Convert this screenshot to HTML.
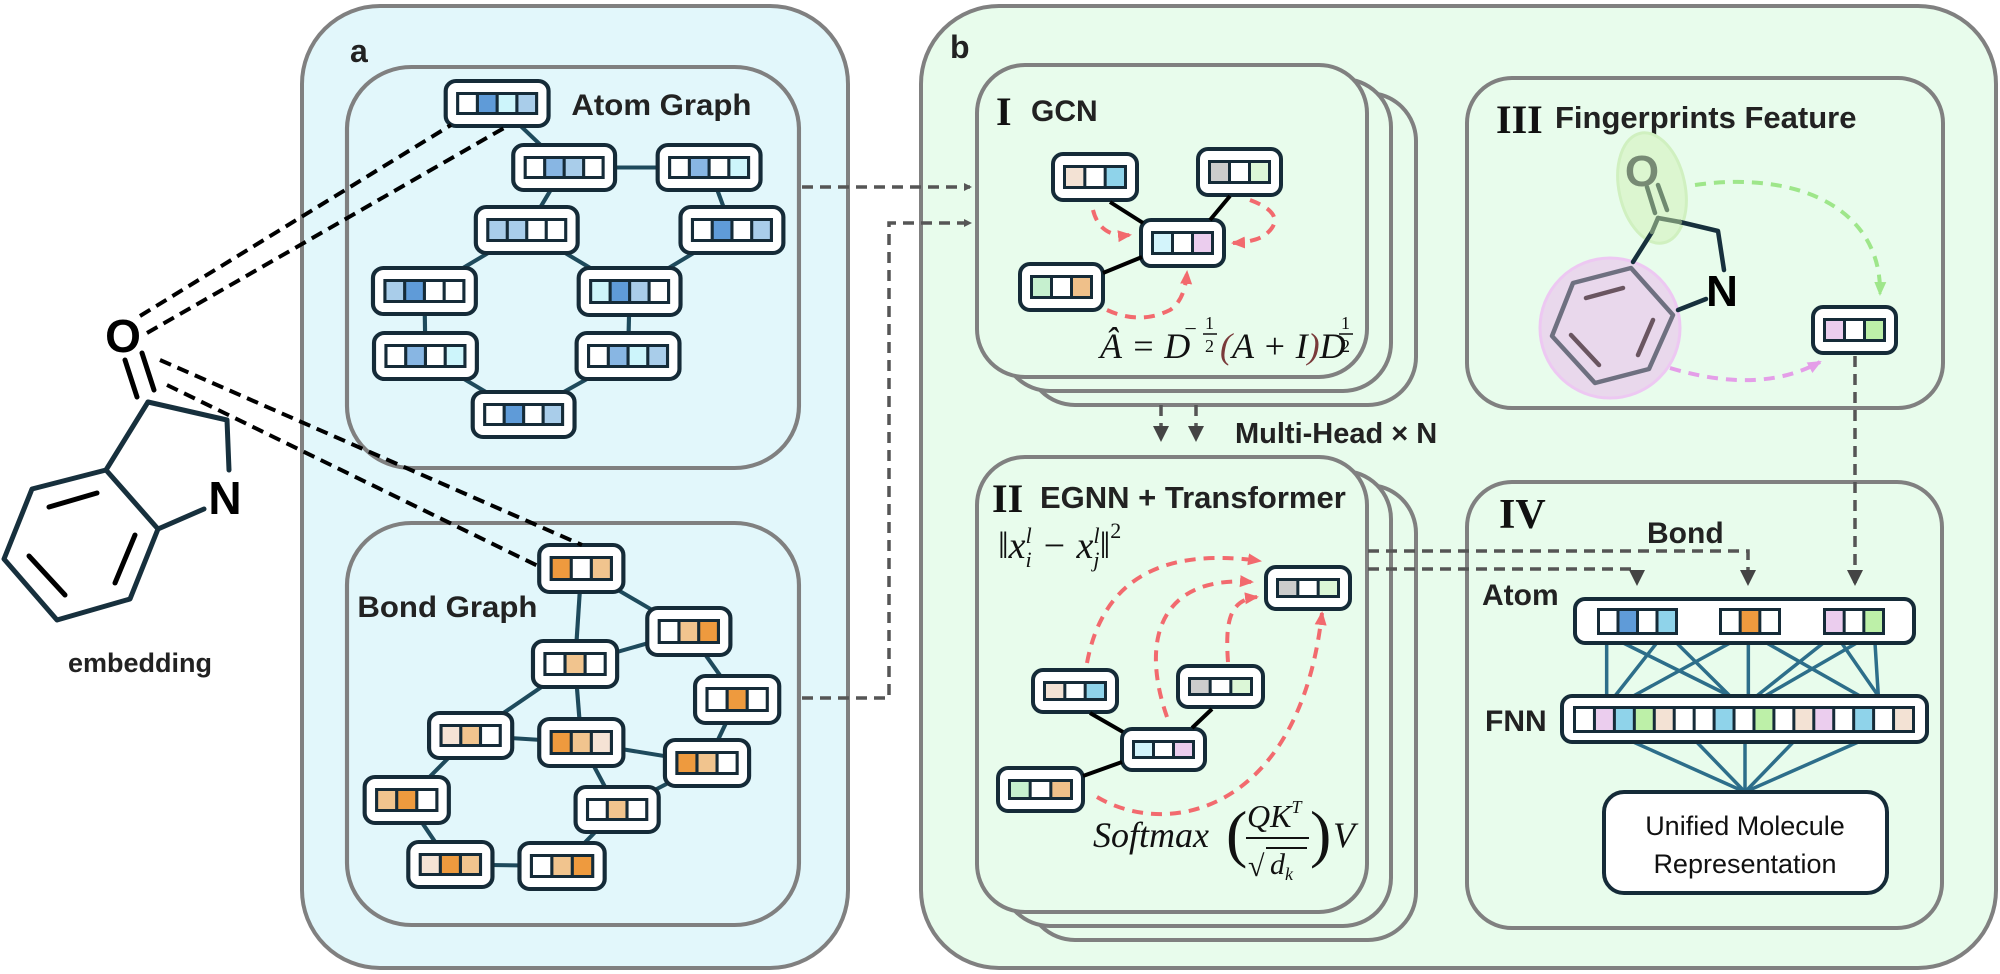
<!DOCTYPE html>
<html><head><meta charset="utf-8">
<style>
html,body{margin:0;padding:0;background:#fff;}
svg{display:block;}
.t{font-family:"Liberation Sans",sans-serif;font-weight:bold;fill:#222;}
.m{font-family:"Liberation Serif",serif;font-style:italic;fill:#111;}
.r{font-family:"Liberation Serif",serif;font-weight:bold;fill:#111;}
</style></head><body>
<svg id="s" width="2000" height="974" viewBox="0 0 2000 974" xmlns="http://www.w3.org/2000/svg">
<defs>
<marker id="ag" markerWidth="8" markerHeight="8" refX="6" refY="4" orient="auto" markerUnits="userSpaceOnUse" viewBox="0 0 8 8"><path d="M0,0 L8,4 L0,8 z" fill="#555"/></marker>
<marker id="agb" markerWidth="16" markerHeight="16" refX="14" refY="8" orient="auto" markerUnits="userSpaceOnUse"><path d="M0,0 L16,8 L0,16 z" fill="#444"/></marker>
<marker id="ar" markerWidth="14" markerHeight="14" refX="12" refY="7" orient="auto" markerUnits="userSpaceOnUse"><path d="M0,1 L14,7 L0,13 z" fill="#f26a6e"/></marker>
<marker id="agr" markerWidth="14" markerHeight="14" refX="12" refY="7" orient="auto" markerUnits="userSpaceOnUse"><path d="M0,1 L14,7 L0,13 z" fill="#9ee68a"/></marker>
<marker id="apk" markerWidth="14" markerHeight="14" refX="12" refY="7" orient="auto" markerUnits="userSpaceOnUse"><path d="M0,1 L14,7 L0,13 z" fill="#e49ee8"/></marker>
</defs>

<rect x="302" y="6" width="546" height="962" rx="78" fill="#e2f7fb" stroke="#808080" stroke-width="4"/>
<text class="t" x="350" y="62" font-size="32">a</text>
<g transform="translate(347,0) scale(1.039,1) translate(-347,0)">
<rect x="347" y="67" width="435" height="401" rx="62" fill="#e2f7fb" stroke="#808080" stroke-width="4"/>
<text class="t" x="563" y="115" font-size="30">Atom Graph</text>
<g id="edgesA" stroke="#1e4a5c" stroke-width="4"></g>
<g id="nodesA"></g>
<rect x="347" y="523" width="435" height="402" rx="62" fill="#e2f7fb" stroke="#808080" stroke-width="4"/>
<text class="t" x="357" y="617" font-size="30">Bond Graph</text>
<g id="edgesB" stroke="#1e4a5c" stroke-width="4"></g>
<g id="nodesB"></g>
</g>

<rect x="921" y="6" width="1075" height="962" rx="78" fill="#e8fcec" stroke="#808080" stroke-width="4"/>
<text class="t" x="950" y="58" font-size="32">b</text>
<rect x="1027" y="93" width="389" height="312" rx="48" fill="#e8fcec" stroke="#808080" stroke-width="4"/>
<rect x="1002" y="79" width="389" height="312" rx="48" fill="#e8fcec" stroke="#808080" stroke-width="4"/>
<rect x="977" y="65" width="390" height="312" rx="48" fill="#e8fcec" stroke="#808080" stroke-width="4"/>
<text class="r" x="996" y="125" font-size="40">I</text>
<text class="t" x="1031" y="121" font-size="30">GCN</text>
<rect x="1027" y="485" width="389" height="455" rx="48" fill="#e8fcec" stroke="#808080" stroke-width="4"/>
<rect x="1002" y="471" width="389" height="455" rx="48" fill="#e8fcec" stroke="#808080" stroke-width="4"/>
<rect x="977" y="457" width="390" height="455" rx="48" fill="#e8fcec" stroke="#808080" stroke-width="4"/>
<text class="r" x="992" y="512" font-size="40">II</text>
<text class="t" x="1040" y="508" font-size="31">EGNN + Transformer</text>
<rect x="1467" y="78" width="476" height="330" rx="45" fill="#e8fcec" stroke="#808080" stroke-width="4"/>
<text class="r" x="1496" y="133" font-size="40">III</text>
<text class="t" x="1555" y="128" font-size="31">Fingerprints Feature</text>
<rect x="1467" y="482" width="475" height="446" rx="45" fill="#e8fcec" stroke="#808080" stroke-width="4"/>
<text class="r" x="1499" y="528" font-size="42">IV</text>
<text class="t" x="1647" y="543" font-size="30">Bond</text>
<text class="t" x="1482" y="605" font-size="30">Atom</text>
<text class="t" x="1485" y="731" font-size="30">FNN</text>
<text class="t" x="1235" y="443" font-size="29">Multi-Head × N</text>

<g stroke="#17303d" stroke-width="5" fill="none" stroke-linecap="round" stroke-linejoin="round">
<path d="M148,402 L227,420 L229,470"/>
<path d="M204,509 L158,529"/>
<path d="M148,402 L106,470"/>
<path d="M106,470 L32,489 L4,559 L57,620 L130,599 L158,529 Z"/>
<path d="M49,507 L97,493 M29,556 L65,595 M115,583 L135,535" stroke="#000"/>
<path d="M125,360 L137,397 M142,353 L154,390" stroke="#000"/>
</g>
<text class="t" x="123" y="352" font-size="46" text-anchor="middle" style="fill:#000">O</text>
<text class="t" x="225" y="514" font-size="46" text-anchor="middle" style="fill:#000">N</text>
<text class="t" x="140" y="672" font-size="27" text-anchor="middle">embedding</text>
<g stroke="#000" stroke-width="4" stroke-dasharray="12,7" fill="none">
<path d="M140,316 L451,125"/><path d="M147,333 L504,128"/>
<path d="M160,360 L582,545"/><path d="M167,385 L540,567"/>
</g>

<g stroke="#555" stroke-width="3.5" stroke-dasharray="11,7" fill="none">
<path d="M802,187 L970,187" marker-end="url(#ag)"/>
<path d="M802,698 L889,698 L889,223 L970,223" marker-end="url(#ag)"/>
<path d="M1161,405 L1161,440" marker-end="url(#agb)"/>
<path d="M1196,405 L1196,440" marker-end="url(#agb)"/>
<path d="M1368,551 L1748,551 L1748,584" marker-end="url(#agb)"/>
<path d="M1368,569 L1637,569 L1637,584" marker-end="url(#agb)"/>
<path d="M1855,356 L1855,584" marker-end="url(#agb)"/>
</g>

<g id="nodes"></g>

<g stroke="#000" stroke-width="4">
<path d="M1110,202 L1143,223 M1230,196 L1210,220 M1103,273 L1142,257"/>
<path d="M1090,713 L1123,732 M1212,709 L1192,728 M1083,776 L1122,762"/>
</g>
<g stroke="#f26a6e" stroke-width="4" stroke-dasharray="11,8" fill="none">
<path d="M1093,210 Q1100,238 1130,235" marker-end="url(#ar)"/>
<path d="M1250,200 Q1290,215 1265,235 Q1255,242 1233,243" marker-end="url(#ar)"/>
<path d="M1107,310 Q1140,325 1170,310 Q1185,300 1187,272" marker-end="url(#ar)"/>
<path d="M1087,663 Q1110,540 1260,561" marker-end="url(#ar)"/>
<path d="M1167,717 C1140,640 1160,575 1252,582" marker-end="url(#ar)"/>
<path d="M1228,662 C1225,620 1230,600 1257,597" marker-end="url(#ar)"/>
<path d="M1097,797 C1170,840 1300,810 1322,613" marker-end="url(#ar)"/>
</g>
<text class="m" x="1100" y="358" font-size="36">Â = D</text>
<text class="m" x="1183" y="336" font-size="22">−</text>
<text class="m" x="1205" y="329" font-size="18" style="font-style:normal">1</text>
<line x1="1203" y1="334" x2="1217" y2="334" stroke="#111" stroke-width="1.5"/>
<text class="m" x="1205" y="352" font-size="18" style="font-style:normal">2</text>
<text class="m" x="1220" y="358" font-size="36"><tspan style="fill:#7a3a3a">(</tspan>A + I<tspan style="fill:#7a3a3a">)</tspan>D</text>
<text class="m" x="1341" y="329" font-size="18" style="font-style:normal">1</text>
<line x1="1339" y1="334" x2="1353" y2="334" stroke="#111" stroke-width="1.5"/>
<text class="m" x="1341" y="352" font-size="18" style="font-style:normal">2</text>

<text class="m" x="998" y="558" font-size="38">‖x<tspan font-size="22" dy="9">i</tspan><tspan font-size="22" dx="-6" dy="-24">l</tspan><tspan dy="15"> − x</tspan><tspan font-size="22" dy="9">j</tspan><tspan font-size="22" dx="-6" dy="-24">l</tspan><tspan dy="15">‖</tspan><tspan font-size="22" dy="-20" style="font-style:normal">2</tspan></text>

<text class="m" x="1093" y="847" font-size="36">Softmax</text>
<text class="m" x="1226" y="855" font-size="64" style="font-style:normal">(</text>
<text class="m" x="1247" y="827" font-size="32">QK<tspan font-size="18" dy="-14">T</tspan></text>
<line x1="1246" y1="838" x2="1309" y2="838" stroke="#111" stroke-width="2"/>
<text class="m" x="1248" y="876" font-size="30" style="font-style:normal">√</text>
<line x1="1266" y1="848" x2="1307" y2="848" stroke="#111" stroke-width="2"/>
<text class="m" x="1270" y="874" font-size="30">d<tspan font-size="18" dy="6">k</tspan></text>
<text class="m" x="1310" y="855" font-size="64" style="font-style:normal">)</text>
<text class="m" x="1333" y="847" font-size="36">V</text>

<circle cx="1610" cy="328" r="70" fill="#e9d8ec" stroke="#edc8f2" stroke-width="3"/>
<ellipse cx="1652" cy="188" rx="33" ry="56" transform="rotate(-12 1652 188)" fill="#dcf6d0" stroke="#d0f0c0" stroke-width="3"/>
<g fill="none" stroke-width="4.5" stroke-linecap="round" stroke-linejoin="round">
<path d="M1680,222 L1718,231 L1724,270" stroke="#17303d"/>
<path d="M1678,310 L1706,299" stroke="#17303d"/>
<path d="M1652,232 L1633,262" stroke="#17303d"/>
<path d="M1658,218 L1680,222" stroke="#6f8a70"/>
<path d="M1658,218 L1652,232" stroke="#6f8a70"/>
<path d="M1647,187 L1655,213 M1658,185 L1667,210" stroke="#6f8a70"/>
<path d="M1631,268 L1573,283 L1552,336 L1595,383 L1649,369 L1673,315 Z" stroke="#6e7080"/>
<path d="M1586,298 L1623,288 M1571,335 L1599,365 M1638,355 L1653,320" stroke="#6a5560"/>
</g>
<text class="t" x="1642" y="186" font-size="44" text-anchor="middle" style="fill:#778a74">O</text>
<text class="t" x="1722" y="306" font-size="44" text-anchor="middle" style="fill:#000">N</text>
<path d="M1695,185 C1800,170 1882,210 1880,294" stroke="#9ee68a" stroke-width="4" stroke-dasharray="11,8" fill="none" marker-end="url(#agr)"/>
<path d="M1670,368 Q1760,395 1820,362" stroke="#e49ee8" stroke-width="4" stroke-dasharray="11,8" fill="none" marker-end="url(#apk)"/>

<g id="fnnl" stroke="#2d6e8a" stroke-width="3.5"></g>
<rect x="1604" y="792" width="283" height="101" rx="20" fill="#fff" stroke="#152b38" stroke-width="4"/>
<text x="1745" y="835" font-size="27" text-anchor="middle" font-family="Liberation Sans, sans-serif" fill="#111">Unified Molecule</text>
<text x="1745" y="873" font-size="27" text-anchor="middle" font-family="Liberation Sans, sans-serif" fill="#111">Representation</text>
<g id="nodes2"></g>
</svg>
<script>
var NS="http://www.w3.org/2000/svg";
function el(p,t,a){var e=document.createElementNS(NS,t);for(var k in a)e.setAttribute(k,a[k]);p.appendChild(e);return e;}
var W='#ffffff',B1='#5f9bd8',B2='#88b6e3',B3='#a9cdea',B4='#cdf5fb',O1='#ee9a3e',O2='#f1c48e',O3='#f5e3d5';
function node(g,x1,y1,x2,y2,cols,bar){
  if(!bar) el(g,'rect',{x:x1,y:y1,width:x2-x1,height:y2-y1,rx:10,fill:'#fff',stroke:'#152b38','stroke-width':4});
  var ix=x1+10,iy=y1+11,iw=x2-x1-20,ih=y2-y1-22;
  if(bar){ix=bar[0];iy=bar[1];iw=bar[2];ih=bar[3];}
  el(g,'rect',{x:ix,y:iy,width:iw,height:ih,fill:'#152b38'});
  var n=cols.length,cw=(iw-3)/n;
  for(var i=0;i<n;i++) el(g,'rect',{x:ix+3+i*cw,y:iy+3,width:cw-3,height:ih-6,fill:cols[i]});
}
var A=[[442,81,541,126,[W,B1,B4,B3]],[507,145,605,190,[W,B2,B3,W]],[646,145,745,190,[W,B2,W,B4]],
[471,207,569,253,[B3,B3,W,W]],[668,207,767,253,[W,B1,W,B3]],[372,268,471,314,[B3,B1,W,W]],
[570,268,668,315,[B4,B1,B3,W]],[373,333,472,379,[W,B2,W,B4]],[568,333,667,379,[W,B2,B4,B3]],[468,392,566,437,[W,B1,W,B3]]];
var AE=[[0,1],[1,2],[1,3],[2,4],[3,5],[3,6],[4,6],[5,7],[6,8],[7,9],[8,9]];
var B=[[532,545,613,592,[O1,W,O2]],[636,608,716,655,[W,O2,O1]],[526,641,607,687,[W,O2,W]],[682,676,763,723,[W,O1,W]],
[426,713,506,758,[O3,O2,W]],[532,719,613,766,[O1,O2,O3]],[653,740,734,786,[O1,O2,W]],[364,777,445,823,[O2,O1,W]],
[567,787,647,832,[W,O2,W]],[406,842,487,887,[O3,O1,O2]],[513,843,595,889,[W,O2,O1]]];
var BE=[[0,1],[0,2],[2,1],[1,3],[2,4],[2,5],[3,6],[4,5],[5,6],[5,8],[6,8],[4,7],[7,9],[9,10],[10,8]];
function c(n){return [(n[0]+n[2])/2,(n[1]+n[3])/2];}
var eA=document.getElementById('edgesA'),eB=document.getElementById('edgesB'),nA=document.getElementById('nodesA'),nB=document.getElementById('nodesB');
AE.forEach(function(e){var a=c(A[e[0]]),b=c(A[e[1]]);el(eA,'line',{x1:a[0],y1:a[1],x2:b[0],y2:b[1]});});
BE.forEach(function(e){var a=c(B[e[0]]),b=c(B[e[1]]);el(eB,'line',{x1:a[0],y1:a[1],x2:b[0],y2:b[1]});});
A.forEach(function(n){node(nA,n[0],n[1],n[2],n[3],n[4]);});
B.forEach(function(n){node(nB,n[0],n[1],n[2],n[3],n[4]);});
var nodes=document.getElementById('nodes');
var G='#cccccc',Gr='#dcf7d7',P='#f3e2d4',Cy='#8fd3ea',Lc='#d3f4fb',Pk='#ebcdee',Lg='#c6f0cf',Or='#efc08a';
[[1053,154,1137,200,[P,W,Cy]],[1198,149,1281,195,[G,W,Gr]],[1141,220,1224,266,[Lc,W,Pk]],[1020,264,1103,310,[Lg,W,Or]],
[1266,567,1350,609,[G,W,Gr]],[1033,670,1117,712,[P,W,Cy]],[1178,666,1263,707,[G,W,Gr]],[1122,729,1205,770,[Lc,W,Pk]],[998,768,1083,811,[Lg,W,Or]],
[1813,307,1896,353,[Pk,W,'#bdf0a8']]].forEach(function(n){node(nodes,n[0],n[1],n[2],n[3],n[4]);});
var fl=document.getElementById('fnnl'),n2=document.getElementById('nodes2');
function X(z){return 1460+z/3;}
[[440,440],[590,465],[490,810],[650,810],[810,520],[865,865],[920,1200],[1090,890],[1190,915],[1145,1255],[1245,1255]].forEach(function(p){
 el(fl,'line',{x1:X(p[0]),y1:643,x2:X(p[1]),y2:696});});
[520,710,855,1000,1195].forEach(function(z){el(fl,'line',{x1:X(z),y1:742,x2:1745,y2:792});});
el(n2,'rect',{x:1575,y:599,width:339,height:44,rx:10,fill:'#fff',stroke:'#152b38','stroke-width':4});
node(n2,0,0,0,0,[W,B1,W,Cy],[1597,608,81,27]);
node(n2,0,0,0,0,[W,O1,W],[1719,608,62,27]);
node(n2,0,0,0,0,[Pk,W,'#bdf0a8'],[1823,608,62,27]);
el(n2,'rect',{x:1562,y:696,width:365,height:46,rx:10,fill:'#fff',stroke:'#152b38','stroke-width':4});
node(n2,0,0,0,0,[W,Pk,Cy,'#bdf0a8',P,W,W,Cy,W,'#bdf0a8',W,P,Pk,W,Cy,W,P],[1573,706,342,27]);
</script>
</body></html>
